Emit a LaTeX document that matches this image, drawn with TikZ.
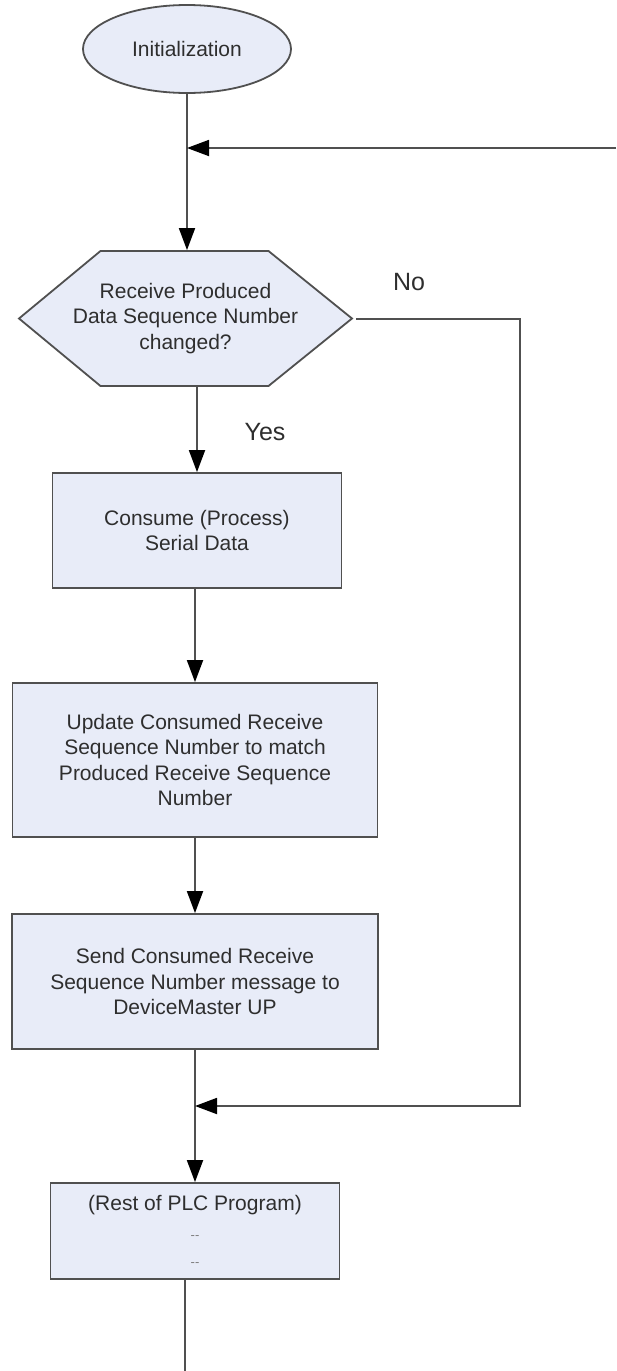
\documentclass[tikz,border=0pt]{standalone}
\usepackage{fontspec}
\setmainfont{Liberation Sans}
\usetikzlibrary{arrows.meta,backgrounds,shapes.geometric}
\definecolor{boxfill}{HTML}{E8ECF8}
\definecolor{edgecol}{HTML}{505050}
\definecolor{txtcol}{HTML}{2E2E2E}
\begin{document}
\begin{tikzpicture}[x=1pt,y=-1pt,
  base/.style={draw=edgecol, line width=1.8pt, fill=boxfill, text=txtcol,
    font=\fontsize{21}{25.5}\selectfont, align=center, inner sep=0pt},
  procbox/.style={base, rectangle},
  termnode/.style={base, ellipse},
  hexnode/.style={base, draw=none, fill=none, rectangle},
  flow/.style={draw=edgecol, line width=1.8pt},
  arrow/.style={flow, -{Triangle[length=22pt,width=16pt,color=black]}},
  lbl/.style={text=txtcol, font=\fontsize{25}{30}\selectfont, inner sep=0pt}
]
\useasboundingbox (0,0) rectangle (616,1371);

\node[termnode, minimum width=208pt, minimum height=88pt] (init) at (187,49) {Initialization};

\node[hexnode, minimum width=168pt, minimum height=135pt] (dec) at (185.5,318.5)
  {Receive Produced\\Data Sequence Number\\changed?};
\begin{scope}[on background layer]
\path[base] ([shift={(-85,-67.5)}]dec.center) -- ([shift={(83,-67.5)}]dec.center)
  -- ([shift={(166.5,0)}]dec.center) -- ([shift={(83,67.5)}]dec.center)
  -- ([shift={(-85,67.5)}]dec.center) -- ([shift={(-166.5,0)}]dec.center) -- cycle;
\end{scope}
\coordinate (decR) at ([shift={(166.5,0)}]dec.center);

\node[procbox, minimum width=289pt, minimum height=115pt] (cons) at (197,530.5)
  {Consume (Process)\\Serial Data};
\node[procbox, minimum width=365pt, minimum height=154pt] (upd) at (195,760)
  {Update Consumed Receive\\Sequence Number to match\\Produced Receive Sequence\\Number};
\node[procbox, minimum width=366pt, minimum height=135pt] (send) at (195,981.5)
  {Send Consumed Receive\\Sequence Number message to\\DeviceMaster UP};
\node[procbox, minimum width=289pt, minimum height=96pt] (rest) at (195,1231)
  {(Rest of PLC Program)\\[3pt]{\fontsize{13}{15}\selectfont\color{gray}-{}-}\\[2pt]{\fontsize{13}{15}\selectfont\color{gray}-{}-}};

\node[lbl] (no) at (409,282) {No};
\node[lbl] (yes) at (265,432) {Yes};

\coordinate (loopin) at (616,148);
\coordinate (join1) at (187,148);
\coordinate (noStart) at (356,319);
\coordinate (noCorner) at (520,319);
\coordinate (noDown) at (520,1106);
\coordinate (endc) at (185,1371);

\draw[arrow] (init.south) -- (init.south |- dec.north);
\draw[arrow] (loopin) -- (join1);
\draw[arrow] (dec.south -| cons.north) -- (cons.north);
\draw[arrow] (cons.south -| upd.north) -- (upd.north);
\draw[arrow] (upd.south -| send.north) -- (send.north);
\draw[arrow] (send.south) -- (send.south |- rest.north);
\draw[arrow] (noStart) -- (noCorner) -- (noDown) -- (send.south |- noDown);
\draw[flow] (rest.south -| endc) -- (endc);
\end{tikzpicture}
\end{document}
